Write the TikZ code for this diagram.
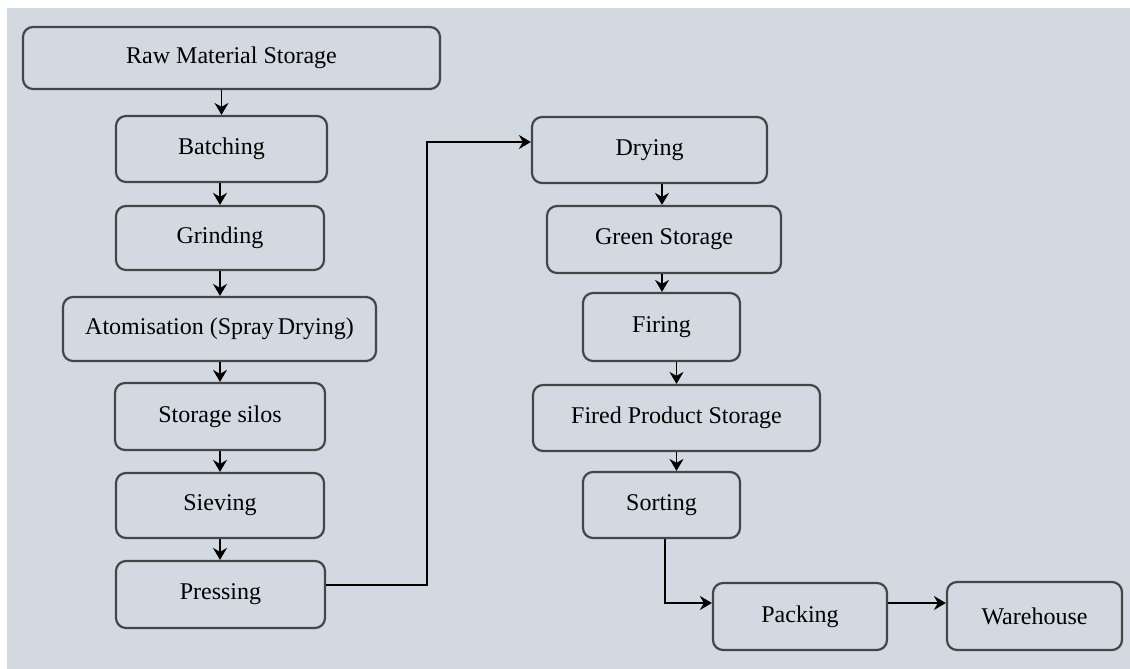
\documentclass[tikz,border=0pt]{standalone}
\usepackage{fontspec}
\setmainfont{Liberation Serif}
\usetikzlibrary{arrows.meta,positioning,calc}
\definecolor{bg}{RGB}{211,217,224}
\definecolor{boxline}{RGB}{70,70,70}
\begin{document}
\begin{tikzpicture}[x=1pt,y=-1pt,
  flowbox/.style={draw=boxline, line width=2.2pt, rounded corners=10pt, inner sep=0pt,
     font=\fontsize{24}{28}\selectfont, text=black},
  arr/.style={line width=1.8pt, -{Stealth[length=12pt,width=14pt,inset=4pt]}}]
\useasboundingbox (0,0) rectangle (1130,669);
\fill[white] (0,0) rectangle (1130,669);
\fill[bg] (7,8) rectangle (1130,669);
% left column
\node[flowbox, minimum width=417pt, minimum height=62pt] (raw) at (231.5,58) {Raw Material Storage};
\node[flowbox, minimum width=211pt, minimum height=66pt] (batch) at (221.5,149) {Batching};
\node[flowbox, minimum width=208pt, minimum height=64pt] (grind) at (220,238) {Grinding};
\node[flowbox, minimum width=313pt, minimum height=64pt] (atom) at (219.5,329) {Atomisation (Spray\,Drying)};
\node[flowbox, minimum width=210pt, minimum height=67pt] (silos) at (220,416.5) {Storage silos};
\node[flowbox, minimum width=208pt, minimum height=65pt] (sieve) at (220,505.5) {Sieving};
\node[flowbox, minimum width=209pt, minimum height=67pt] (press) at (220.5,594.5) {Pressing};
% right column
\node[flowbox, minimum width=235pt, minimum height=66pt] (dry) at (649.5,150) {Drying};
\node[flowbox, minimum width=234pt, minimum height=67pt] (green) at (664,239.5) {Green Storage};
\node[flowbox, minimum width=157pt, minimum height=68pt] (fire) at (661.5,327) {Firing};
\node[flowbox, minimum width=287pt, minimum height=66pt] (fps) at (676.5,418) {Fired Product Storage};
\node[flowbox, minimum width=157pt, minimum height=66pt] (sort) at (661.5,505) {Sorting};
\node[flowbox, minimum width=174pt, minimum height=67pt] (pack) at (800,616.5) {Packing};
\node[flowbox, minimum width=175pt, minimum height=68pt] (ware) at (1034.5,616) {Warehouse};
% coordinates
\coordinate (pressout) at (press.east |- 0,585);
\coordinate (dryin) at (dry.west |- 0,142);
\coordinate (sortout) at (sort.south -| 665,0);
\coordinate (packin) at (pack.west |- 0,603);
\coordinate (packout) at (pack.east |- 0,603);
\coordinate (warein) at (ware.west |- 0,603);
% arrows
\draw[arr] (raw.south -| batch.north) -- (batch.north);
\draw[arr] (batch.south -| grind.north) -- (grind.north);
\draw[arr] (grind.south) -- (grind.south |- atom.north);
\draw[arr] (atom.south -| silos.north) -- (silos.north);
\draw[arr] (silos.south) -- (silos.south |- sieve.north);
\draw[arr] (sieve.south) -- (sieve.south |- press.north);
\draw[arr] (pressout) -| (427,300) |- (dryin);
\draw[arr] (dry.south -| 662,0) -- (green.north -| 662,0);
\draw[arr] (green.south -| 662,0) -- (fire.north -| 662,0);
\draw[arr] (fire.south -| fps.north) -- (fps.north);
\draw[arr] (fps.south) -- (fps.south |- sort.north);
\draw[arr] (sortout) |- (packin);
\draw[arr] (packout) -- (warein);
\end{tikzpicture}
\end{document}
